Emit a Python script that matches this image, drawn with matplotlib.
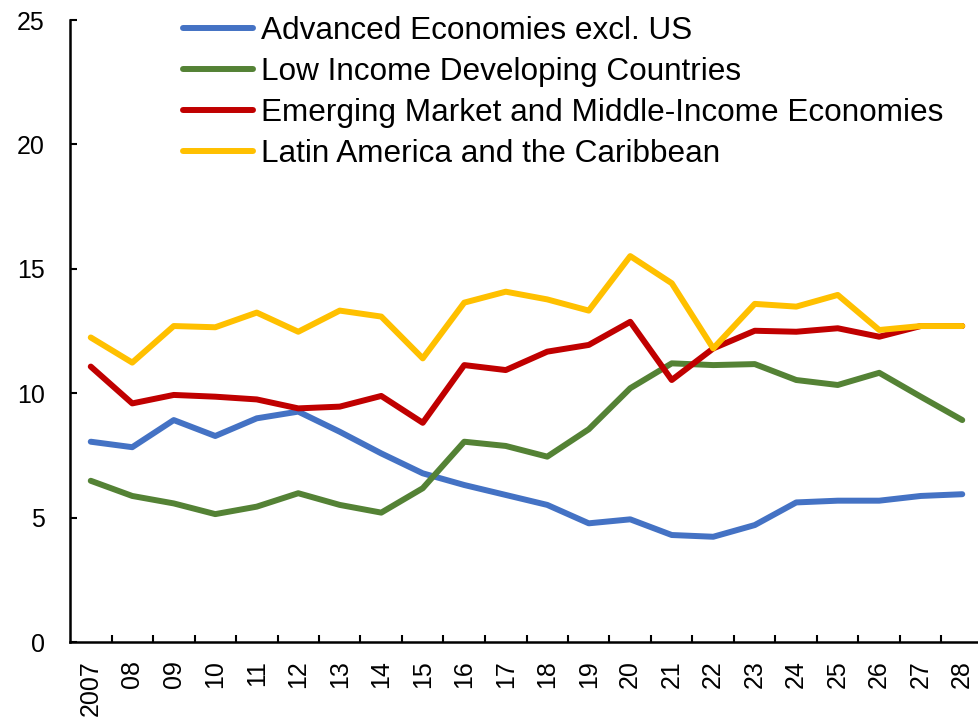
import numpy as np
import matplotlib
matplotlib.use("Agg")
import matplotlib.pyplot as plt

plt.rcParams["font.family"] = ["Liberation Sans", "DejaVu Sans"]

# Dati
years = ["2007", "08", "09", "10", "11", "12", "13", "14", "15", "16", "17",
         "18", "19", "20", "21", "22", "23", "24", "25", "26", "27", "28"]

advanced = [8.05, 7.83, 8.92, 8.28, 8.99, 9.26, 8.45, 7.58, 6.78, 6.31, 5.91,
            5.51, 4.77, 4.93, 4.30, 4.23, 4.70, 5.61, 5.68, 5.68, 5.87, 5.94]
low_income = [6.48, 5.87, 5.57, 5.14, 5.44, 5.98, 5.51, 5.20, 6.18, 8.05, 7.88,
              7.45, 8.55, 10.20, 11.20, 11.13, 11.17, 10.53, 10.33, 10.82, 9.86, 8.92]
emerging = [11.07, 9.59, 9.93, 9.86, 9.75, 9.39, 9.46, 9.89, 8.81, 11.13, 10.93,
            11.67, 11.94, 12.87, 10.53, 11.80, 12.51, 12.47, 12.61, 12.27, 12.70, 12.70]
latam = [12.24, 11.23, 12.70, 12.65, 13.24, 12.47, 13.32, 13.08, 11.40, 13.64, 14.08,
         13.77, 13.32, 15.51, 14.42, 11.80, 13.59, 13.48, 13.95, 12.54, 12.70, 12.70]

series = [
    ("Advanced Economies excl. US", advanced, "#4472C4"),
    ("Low Income Developing Countries", low_income, "#548235"),
    ("Emerging Market and Middle-Income Economies", emerging, "#C00000"),
    ("Latin America and the Caribbean", latam, "#FFC000"),
]

fig = plt.figure(figsize=(9.79, 7.17), dpi=100)
ax = fig.add_axes([70 / 979, 1 - 642 / 717, 913 / 979, 622 / 717])

x = np.arange(len(years))
for label, vals, col in series:
    ax.plot(x, vals, color=col, lw=4.3, label=label, solid_capstyle="round")

ax.set_xlim(-0.5, len(years) - 0.5)
ax.set_ylim(0, 25)
ax.set_yticks(np.arange(0, 26, 5))

# tacche tra le categorie, etichette al centro
ax.set_xticks(x)
ax.set_xticklabels(years, rotation=90, ha="center", va="top")
ax.set_xticks(np.arange(0.5, len(years) - 1, 1), minor=True)
ax.tick_params(axis="x", which="major", length=0, pad=13, labelsize=18)
ax.tick_params(axis="x", which="minor", direction="in", length=5, width=1.5)
ax.tick_params(axis="y", direction="in", length=5, width=1.5, pad=18, labelsize=18)

for s in ["top", "right"]:
    ax.spines[s].set_visible(False)
for s in ["left", "bottom"]:
    ax.spines[s].set_linewidth(1.8)

leg = ax.legend(loc="upper left", bbox_to_anchor=(161 / 979, 1 + 6 / 717), bbox_transform=fig.transFigure,
                frameon=False, fontsize=22.7, handlelength=2.22, handletextpad=0.25,
                labelspacing=0.35, borderpad=0.2)

fig.savefig("out.png", dpi=100)
